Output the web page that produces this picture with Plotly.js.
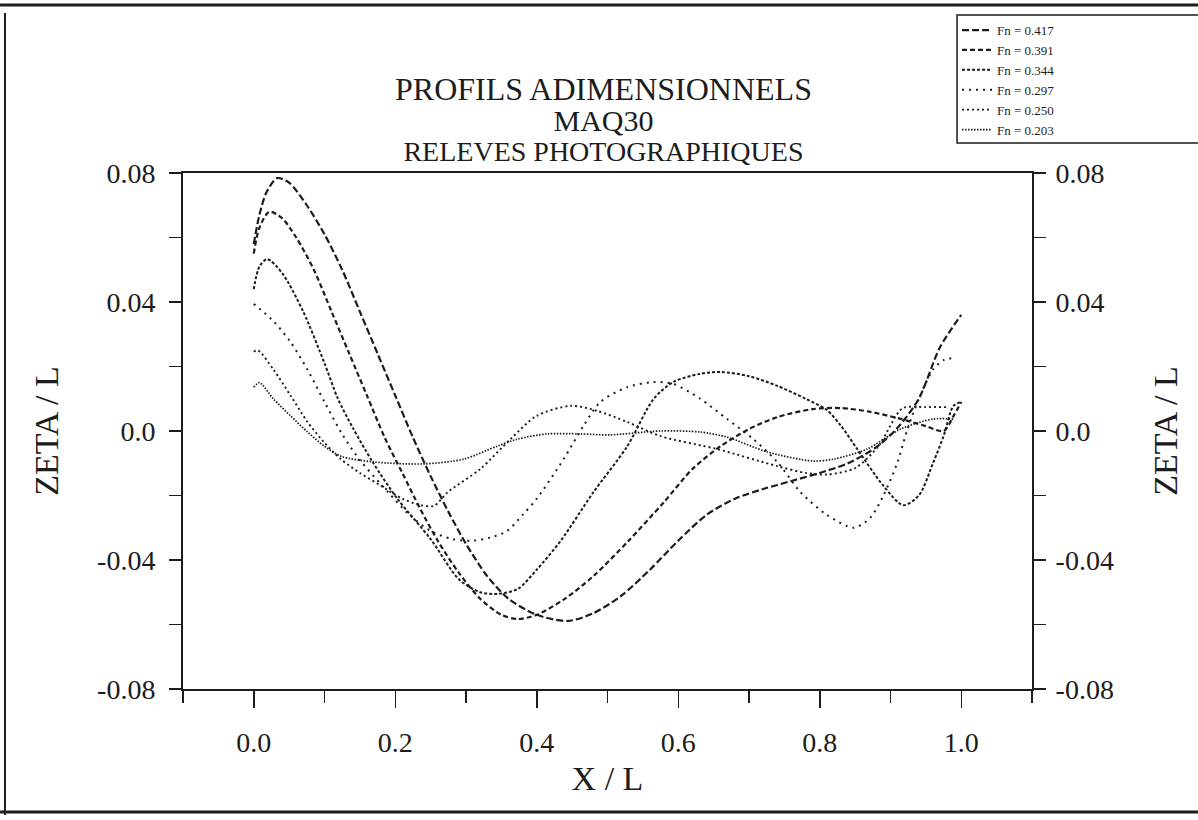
<!DOCTYPE html>
<html>
<head>
<meta charset="utf-8">
<script src="https://cdn.plot.ly/plotly-3.0.1.min.js"></script>
<style>
  html, body { margin: 0; padding: 0; background: #ffffff; }
  #chart { width: 1198px; height: 820px; }
</style>
</head>
<body>
<div id="chart"></div>
<script>
// ---- Data ----
const seriesNames = ['Fn = 0.417', 'Fn = 0.391', 'Fn = 0.344', 'Fn = 0.297', 'Fn = 0.250', 'Fn = 0.203'];

const x417 = [0, 0.008, 0.018, 0.033, 0.05, 0.075, 0.10, 0.125, 0.15, 0.175, 0.20, 0.225, 0.25, 0.275, 0.30, 0.33, 0.36, 0.40, 0.444, 0.48, 0.52, 0.56, 0.60, 0.64, 0.68, 0.72, 0.76, 0.80, 0.84, 0.88, 0.91, 0.94, 0.97, 1.0];
const y417 = [0.058, 0.067, 0.074, 0.0784, 0.077, 0.070, 0.061, 0.050, 0.037, 0.024, 0.011, -0.002, -0.014, -0.025, -0.035, -0.045, -0.052, -0.057, -0.0589, -0.0565, -0.051, -0.043, -0.034, -0.026, -0.021, -0.018, -0.0155, -0.013, -0.010, -0.005, 0.001, 0.010, 0.026, 0.036];

const x391 = [0, 0.008, 0.022, 0.04, 0.06, 0.085, 0.11, 0.135, 0.16, 0.185, 0.21, 0.235, 0.26, 0.29, 0.32, 0.35, 0.373, 0.40, 0.44, 0.48, 0.53, 0.58, 0.62, 0.66, 0.70, 0.74, 0.79, 0.83, 0.87, 0.91, 0.95, 0.975, 0.99, 1.0];
const y391 = [0.055, 0.063, 0.068, 0.066, 0.060, 0.050, 0.037, 0.024, 0.011, -0.002, -0.013, -0.024, -0.034, -0.044, -0.052, -0.057, -0.0583, -0.057, -0.052, -0.045, -0.034, -0.022, -0.0118, -0.0047, 0.0006, 0.0043, 0.0068, 0.0071, 0.006, 0.004, 0.0015, 0.0, 0.005, 0.009];

const x344 = [0, 0.008, 0.019, 0.04, 0.07, 0.10, 0.119, 0.14, 0.168, 0.203, 0.25, 0.29, 0.32, 0.345, 0.373, 0.40, 0.434, 0.48, 0.528, 0.565, 0.593, 0.63, 0.66, 0.70, 0.74, 0.78, 0.81, 0.83, 0.853, 0.89, 0.918, 0.94, 0.96, 0.975, 0.989, 1.0];
const y344 = [0.044, 0.051, 0.0533, 0.049, 0.037, 0.021, 0.010, 0.001, -0.0096, -0.021, -0.0335, -0.046, -0.050, -0.0505, -0.049, -0.043, -0.034, -0.019, -0.0047, 0.0099, 0.0152, 0.0177, 0.0183, 0.017, 0.014, 0.010, 0.0065, 0.0016, -0.0056, -0.017, -0.023, -0.020, -0.010, -0.0016, 0.0078, 0.009];

const x297 = [0, 0.028, 0.052, 0.076, 0.10, 0.125, 0.15, 0.19, 0.22, 0.25, 0.28, 0.31, 0.335, 0.358, 0.38, 0.40, 0.438, 0.466, 0.49, 0.528, 0.565, 0.593, 0.631, 0.669, 0.706, 0.74, 0.773, 0.81, 0.848, 0.871, 0.89, 0.91, 0.924, 0.942, 0.96, 0.975, 0.989];
const y297 = [0.0394, 0.034, 0.0276, 0.019, 0.009, -0.001, -0.009, -0.019, -0.026, -0.031, -0.0335, -0.034, -0.033, -0.031, -0.026, -0.021, -0.0087, 0.0016, 0.009, 0.0136, 0.0152, 0.0146, 0.010, 0.0037, -0.0025, -0.0096, -0.019, -0.026, -0.030, -0.027, -0.020, -0.0096, 0.0006, 0.011, 0.019, 0.022, 0.0226];

const x250 = [0, 0.006, 0.028, 0.052, 0.076, 0.099, 0.123, 0.15, 0.18, 0.21, 0.236, 0.255, 0.274, 0.32, 0.363, 0.40, 0.448, 0.486, 0.528, 0.575, 0.655, 0.74, 0.78, 0.81, 0.85, 0.883, 0.917, 0.95, 0.98];
const y250 = [0.0246, 0.025, 0.019, 0.011, 0.0028, -0.0034, -0.0087, -0.013, -0.017, -0.021, -0.023, -0.0232, -0.019, -0.0118, -0.0025, 0.0047, 0.0078, 0.0062, 0.0028, -0.0016, -0.0056, -0.0109, -0.013, -0.0135, -0.0115, -0.0047, 0.007, 0.0074, 0.0074];

const x203 = [0, 0.008, 0.028, 0.052, 0.076, 0.099, 0.123, 0.17, 0.24, 0.297, 0.344, 0.373, 0.415, 0.462, 0.504, 0.575, 0.631, 0.669, 0.726, 0.79, 0.82, 0.867, 0.914, 0.96, 0.989];
const y203 = [0.0136, 0.015, 0.0099, 0.0047, -0.0003, -0.0046, -0.0078, -0.0096, -0.0102, -0.0087, -0.0047, -0.0025, -0.0009, -0.0009, -0.0012, 0.0, -0.0003, -0.0019, -0.0065, -0.0093, -0.0087, -0.0056, 0.0006, 0.0037, 0.0037];

const yTickVals = [-0.08, -0.04, 0, 0.04, 0.08];
const yTickText = ['-0.08', '-0.04', '0.0', '0.04', '0.08'];
const titleLines = ['PROFILS ADIMENSIONNELS', 'MAQ30', 'RELEVES PHOTOGRAPHIQUES'];

// ---- Styles ----
const INK = '#1c1c1c';
const FONT = 'Liberation Serif, Times New Roman, serif';
const styles = [
  {dash: '7px,3px', width: 2.2},
  {dash: '5px,3px', width: 2.2},
  {dash: '3px,2px', width: 2.0},
  {dash: '2px,5px', width: 2.0},
  {dash: '2px,3px', width: 1.9},
  {dash: '1.5px,1.5px', width: 1.7}
];
const xs = [x417, x391, x344, x297, x250, x203];
const ys = [y417, y391, y344, y297, y250, y203];

const traces = seriesNames.map((name, i) => ({
  type: 'scatter', mode: 'lines', name: name,
  x: xs[i], y: ys[i],
  line: {color: INK, width: styles[i].width, dash: styles[i].dash, shape: 'spline', smoothing: 0.8}
}));
// empty carrier so the mirrored right-hand axis is drawn
traces.push({type: 'scatter', mode: 'lines', x: [], y: [], yaxis: 'y2', showlegend: false, hoverinfo: 'skip'});

const axisCommon = {
  showgrid: false, zeroline: false,
  showline: true, linecolor: INK, linewidth: 2,
  ticks: 'outside', tickcolor: INK, tickwidth: 1.5,
  tickfont: {family: FONT, size: 28, color: INK}
};

const titleText =
  '<span style="font-size:32px">' + titleLines[0] + '</span><br>' +
  '<span style="font-size:30px">' + titleLines[1] + '</span><br>' +
  '<span style="font-size:28px">' + titleLines[2] + '</span>';

const layout = {
  width: 1198, height: 820,
  margin: {l: 183, r: 166, t: 173, b: 131},
  paper_bgcolor: '#ffffff', plot_bgcolor: '#ffffff',
  font: {family: FONT, color: INK},
  showlegend: true,
  legend: {
    x: 0.9117, y: 1.306, xanchor: 'left', yanchor: 'top',
    bgcolor: 'rgba(255,255,255,0)', borderwidth: 0,
    font: {family: FONT, size: 13, color: INK},
    tracegroupgap: 0, itemwidth: 30
  },
  xaxis: Object.assign({}, axisCommon, {
    range: [-0.1, 1.1], tick0: 0, dtick: 0.2, tickformat: '.1f',
    ticklen: 17, mirror: true, ticklabelstandoff: 10,
    minor: {ticks: 'outside', ticklen: 12, tick0: 0, dtick: 0.1, tickcolor: INK, tickwidth: 1.5, showgrid: false},
    title: {text: 'X / L', font: {family: FONT, size: 34, color: INK}, standoff: 10}
  }),
  yaxis: Object.assign({}, axisCommon, {
    range: [-0.08, 0.08], tickmode: 'array', tickvals: yTickVals, ticktext: yTickText,
    ticklen: 12, ticklabelstandoff: 8,
    minor: {ticks: 'outside', ticklen: 12, tick0: 0, dtick: 0.02, tickcolor: INK, tickwidth: 1.5, showgrid: false},
    title: {text: 'ZETA / L', font: {family: FONT, size: 34, color: INK}, standoff: 28}
  }),
  yaxis2: Object.assign({}, axisCommon, {
    overlaying: 'y', side: 'right', anchor: 'x',
    range: [-0.08, 0.08], tickmode: 'array', tickvals: yTickVals, ticktext: yTickText,
    ticklen: 12, ticklabelstandoff: 4,
    minor: {ticks: 'outside', ticklen: 12, tick0: 0, dtick: 0.02, tickcolor: INK, tickwidth: 1.5, showgrid: false},
    title: {text: 'ZETA / L', font: {family: FONT, size: 34, color: INK}, standoff: 40}
  }),
  annotations: [
    {text: titleText, xref: 'paper', yref: 'paper', x: 0.495, y: 1.104, xanchor: 'center', yanchor: 'middle', align: 'center', showarrow: false, font: {family: FONT, size: 23.6, color: INK}}
  ],
  shapes: [
    // scanned page frame
    {type: 'line', xref: 'paper', yref: 'paper', x0: -0.2155, x1: 1.1955, y0: 1.3256, y1: 1.3256, line: {color: INK, width: 3}},
    {type: 'line', xref: 'paper', yref: 'paper', x0: -0.2097, x1: -0.2097, y0: 1.31, y1: -0.244, line: {color: INK, width: 2}},
    {type: 'line', xref: 'paper', yref: 'paper', x0: -0.2155, x1: 1.1955, y0: -0.2384, y1: -0.2384, line: {color: INK, width: 3}},
    // legend frame running off the right edge, as on the scanned page
    {type: 'rect', xref: 'paper', yref: 'paper', x0: 0.9117, x1: 1.205, y0: 1.058, y1: 1.306, line: {color: INK, width: 1.5}, fillcolor: 'rgba(0,0,0,0)'}
  ]
};

Plotly.newPlot('chart', traces, layout, {displayModeBar: false, staticPlot: true});
</script>
</body>
</html>
